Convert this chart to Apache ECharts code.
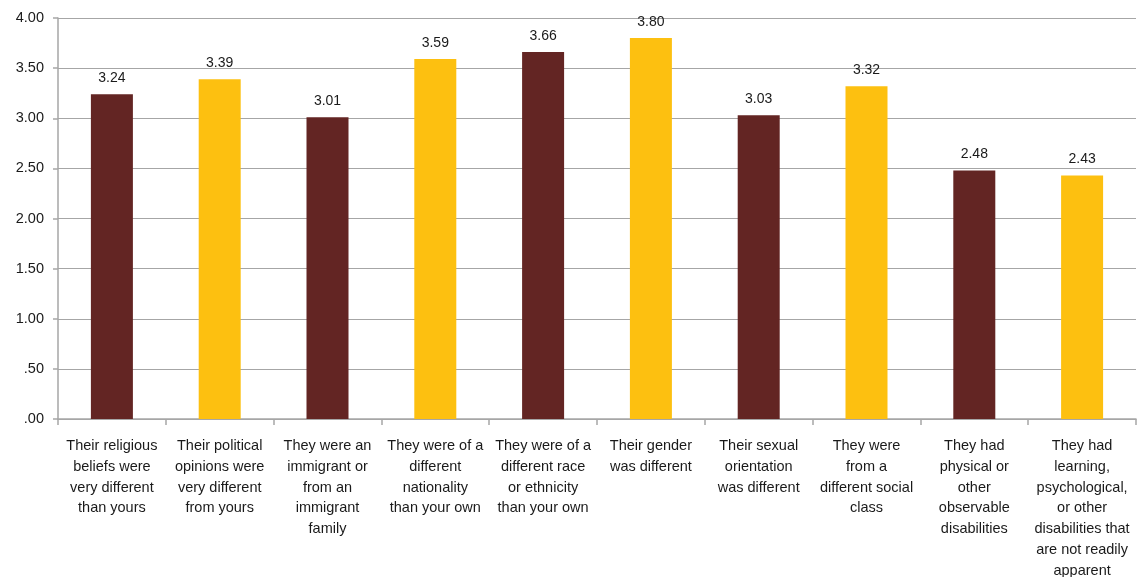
<!DOCTYPE html>
<html><head><meta charset="utf-8">
<script src="https://cdn.jsdelivr.net/npm/echarts@6/dist/echarts.min.js"></script>
<style>html,body{margin:0;padding:0;background:#fff}#c{width:1140px;height:577px}</style>
</head><body><div id="c"></div>
<script>
const categories = [
  "Their religious\nbeliefs were\nvery different\nthan yours",
  "Their political\nopinions were\nvery different\nfrom yours",
  "They were an\nimmigrant or\nfrom an\nimmigrant\nfamily",
  "They were of a\ndifferent\nnationality\nthan your own",
  "They were of a\ndifferent race\nor ethnicity\nthan your own",
  "Their gender\nwas different",
  "Their sexual\norientation\nwas different",
  "They were\nfrom a\ndifferent social\nclass",
  "They had\nphysical or\nother\nobservable\ndisabilities",
  "They had\nlearning,\npsychological,\nor other\ndisabilities that\nare not readily\napparent"
];
const values = [3.24, 3.39, 3.01, 3.59, 3.66, 3.80, 3.03, 3.32, 2.48, 2.43];
const barColors = ["#632523", "#FDC010"];
const yTickLabels = {"0": ".00", "0.5": ".50", "1": "1.00", "1.5": "1.50", "2": "2.00", "2.5": "2.50", "3": "3.00", "3.5": "3.50", "4": "4.00"};

const chart = echarts.init(document.getElementById('c'));
const font = "Liberation Sans, Arial, sans-serif";
chart.setOption({
  animation: false,
  grid: {left: 58, right: 4, top: 18, bottom: 158, containLabel: false, outerBoundsMode: 'none'},
  xAxis: {
    type: 'category', data: categories,
    axisLine: {lineStyle: {color: '#A6A6A6', width: 1.5}},
    axisTick: {show: true, length: 6, lineStyle: {color: '#A6A6A6', width: 1.5}},
    axisLabel: {color: '#1a1a1a', fontFamily: font, fontSize: 14.5, lineHeight: 20.7, margin: 17, interval: 0}
  },
  yAxis: {
    type: 'value', min: 0, max: 4, interval: 0.5,
    axisLine: {show: true, lineStyle: {color: '#A6A6A6', width: 1.5}},
    axisTick: {show: true, length: 5, lineStyle: {color: '#A6A6A6', width: 1.5}},
    splitLine: {lineStyle: {color: '#A6A6A6', width: 1.2}},
    axisLabel: {color: '#1a1a1a', fontFamily: font, fontSize: 14.5, margin: 14,
      formatter: v => yTickLabels[String(v)] ?? v.toFixed(2)}
  },
  series: [{
    type: 'bar', barWidth: 42,
    data: values.map((v, i) => ({value: v, itemStyle: {color: barColors[i % 2]}})),
    label: {show: true, position: 'top', distance: 9, color: '#1a1a1a', fontFamily: font, fontSize: 14,
      formatter: p => p.value.toFixed(2)}
  }]
});
</script></body></html>
